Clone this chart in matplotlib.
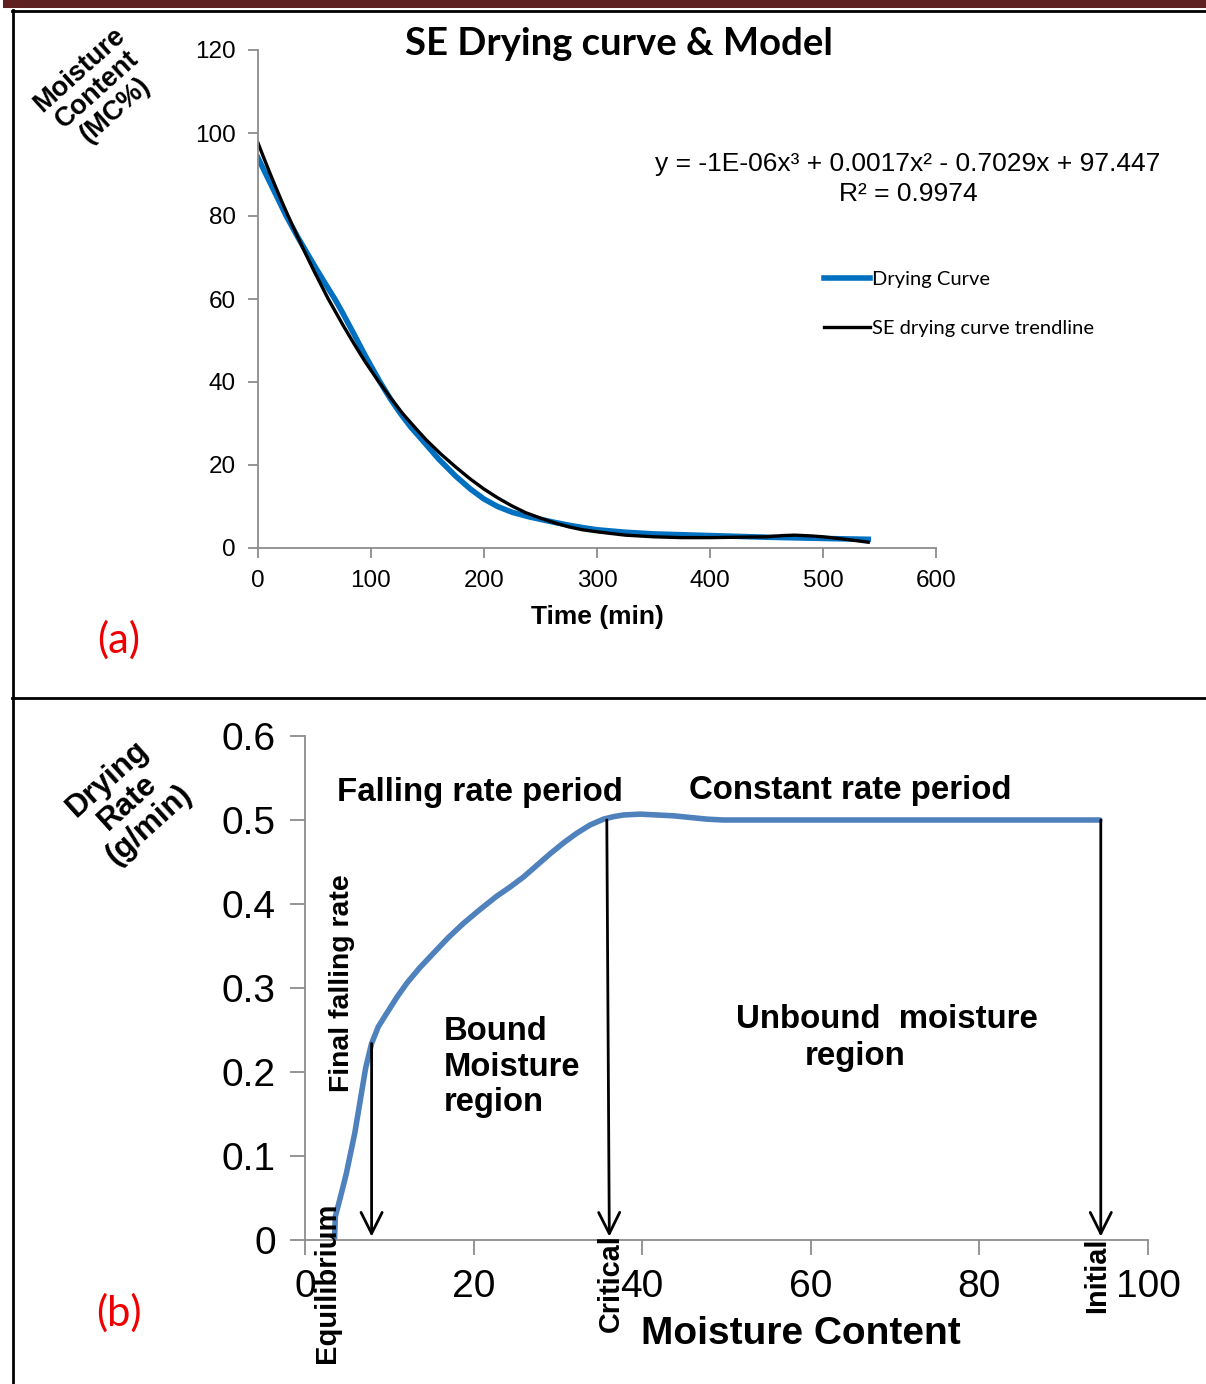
import numpy as np
import matplotlib
matplotlib.use("Agg")
import matplotlib.pyplot as plt
from matplotlib.lines import Line2D

plt.rcParams['font.family'] = ['Liberation Sans', 'DejaVu Sans']

# (a) drying curve: time (min) vs moisture content (%)
time_blue = [0, 5, 10, 15, 25, 35, 50, 60, 68, 75, 85, 95, 108, 117, 125, 135, 146, 160, 175, 188,
             200, 212, 225, 240, 250, 262, 275, 290, 300, 325, 350, 375, 400, 450, 500, 540]
mc_blue = [94, 91.2, 88.4, 85.6, 80, 75, 68, 63.5, 60, 56.6, 51.5, 46.3, 40, 36, 32.8, 29.2, 25.8, 21.4,
           17.3, 14.2, 11.8, 10.0, 8.6, 7.5, 6.9, 6.2, 5.5, 4.8, 4.4, 3.8, 3.4, 3.2, 3.0, 2.6, 2.3, 2.1]
time_black = [0, 5, 10, 15, 22, 30, 40, 50, 62, 75, 85, 95, 106, 117, 128, 140, 149, 162, 175, 188,
              200, 212, 225, 237, 250, 262, 275, 287, 300, 325, 350, 375, 400, 425, 450, 465, 475,
              490, 500, 520, 540]
mc_black = [97.6, 94.1, 90.7, 87.4, 82.9, 78.0, 72.1, 66.5, 60.1, 53.8, 49.2, 44.8, 40.4, 36.3, 32.4,
            28.7, 26.0, 22.6, 19.5, 16.6, 14.2, 12.1, 10.1, 8.5, 7.2, 6.1, 5.1, 4.4, 3.9, 3.1, 2.7,
            2.5, 2.5, 2.6, 2.7, 3.0, 3.1, 2.9, 2.7, 2.1, 1.4]
eq_text = "y = -1E-06x\u00b3 + 0.0017x\u00b2 - 0.7029x + 97.447\nR\u00b2 = 0.9974"

# (b) drying rate vs moisture content
mc_rate = [3.5, 3.6, 4.3, 4.9, 5.4, 5.9, 6.3, 6.7, 7.2, 7.9, 8.7, 9.7, 10.9, 12.1, 13.6, 15.2, 17.0,
           18.8, 20.7, 22.7, 24.3, 25.9, 27.5, 29.1, 30.7, 32.2, 33.8, 35.4, 36.6, 37.8, 39.8, 41.7,
           43.7, 45.7, 47.7, 49.6, 60, 70, 80, 90, 94.3]
rate = [0.0, 0.028, 0.055, 0.079, 0.103, 0.127, 0.151, 0.175, 0.205, 0.234, 0.254, 0.27, 0.289, 0.306,
        0.324, 0.341, 0.36, 0.377, 0.393, 0.409, 0.42, 0.432, 0.446, 0.46, 0.473, 0.484, 0.494, 0.501,
        0.504, 0.506, 0.507, 0.506, 0.505, 0.503, 0.501, 0.5, 0.5, 0.5, 0.5, 0.5, 0.5]
arrow_x_top = [7.9, 35.8, 94.4]
arrow_x_bot = [7.9, 36.1, 94.4]
arrow_y_top = [0.234, 0.5, 0.5]

W, H = 1206, 1384
fig = plt.figure(figsize=(W / 100, H / 100), dpi=100)


def fx(px):
    return px / W


def fy(py):
    return 1 - py / H


# frame lines
fig.add_artist(Line2D([fx(7), 1], [fy(3.5), fy(3.5)], color='#5e2020', lw=5.8))
fig.add_artist(Line2D([fx(12), 1], [fy(11), fy(11)], color='black', lw=2))
fig.add_artist(Line2D([fx(13), fx(13)], [fy(10), 0], color='black', lw=2))
fig.add_artist(Line2D([fx(12), 1], [fy(698), fy(698)], color='black', lw=2))

gray = '#8c8c8c'


def style_axes(ax):
    for s in ['top', 'right']:
        ax.spines[s].set_visible(False)
    for s in ['left', 'bottom']:
        ax.spines[s].set_color(gray)
        ax.spines[s].set_linewidth(1.3)
    ax.tick_params(colors=gray, width=1.3, direction='out')
    ax.tick_params(labelcolor='black')


# ---- panel (a)
ax1 = fig.add_axes([fx(258), fy(548), fx(936) - fx(258), fy(50) - fy(548)])
style_axes(ax1)
ax1.plot(time_blue, mc_blue, color='#0070c0', lw=4, label='Drying Curve')
ax1.plot(time_black, mc_black, color='black', lw=2.4, label='SE drying curve trendline')
ax1.set_xlim(0, 600)
ax1.set_ylim(0, 120)
ax1.set_xticks(range(0, 601, 100))
ax1.set_yticks(range(0, 121, 20))
ax1.tick_params(labelsize=17.5, length=7, pad=9)
ax1.set_xlabel('Time (min)', fontsize=19, fontweight='bold', labelpad=9)
ax1.text(fx(619), fy(44), 'SE Drying curve & Model', transform=fig.transFigure, ha='center',
         va='center', fontsize=27.5, fontweight='bold', family=['Lato', 'DejaVu Sans'])
ax1.text(fx(908), fy(179), eq_text, transform=fig.transFigure, ha='center', va='center',
         fontsize=19, linespacing=1.3)
ax1.legend(loc='center left', bbox_to_anchor=(fx(806), fy(304)), bbox_transform=fig.transFigure,
           frameon=False, handlelength=2.3, handletextpad=0.1, labelspacing=1.55,
           prop={'family': ['Lato', 'DejaVu Sans'], 'size': 14.5})
fig.text(fx(97), fy(90), 'Moisture\nContent\n(MC%)', rotation=42, ha='center', va='center',
         multialignment='center', fontsize=19.5, fontweight='bold', linespacing=1.05)
fig.text(fx(119), fy(640), '(a)', color='#ee0000', fontsize=30, ha='center', va='center',
         family=['Lato', 'DejaVu Sans'])

# ---- panel (b)
ax2 = fig.add_axes([fx(305), fy(1240), fx(1148) - fx(305), fy(736) - fy(1240)])
style_axes(ax2)
ax2.plot(mc_rate, rate, color='#4f81bd', lw=4, solid_capstyle='round', solid_joinstyle='round')
ax2.set_xlim(0, 100)
ax2.set_ylim(0, 0.6)
ax2.set_xticks(range(0, 101, 20))
ax2.set_yticks([0, 0.1, 0.2, 0.3, 0.4, 0.5, 0.6])
ax2.set_yticklabels(['0', '0.1', '0.2', '0.3', '0.4', '0.5', '0.6'])
ax2.tick_params(labelsize=28, length=11, pad=10)
ax2.set_xlabel('Moisture Content', fontsize=28, fontweight='bold')
ax2.xaxis.set_label_coords(0.588, -0.15)

for xt, xb, yt in zip(arrow_x_top, arrow_x_bot, arrow_y_top):
    ax2.annotate('', xy=(xb, 0.004), xytext=(xt, yt),
                 arrowprops=dict(arrowstyle='->', lw=2, color='black', mutation_scale=38,
                                 shrinkA=0, shrinkB=0))

bold = dict(fontweight='bold', color='black')
ax2.text(fx(480), fy(793), 'Falling rate period', transform=fig.transFigure, ha='center',
         va='center', fontsize=23.8, **bold)
ax2.text(fx(850), fy(791), 'Constant rate period', transform=fig.transFigure, ha='center',
         va='center', fontsize=23.8, **bold)
ax2.text(fx(444), fy(1067), 'Bound\nMoisture\nregion', transform=fig.transFigure, ha='left',
         va='center', fontsize=23.6, linespacing=1.2, **bold)
ax2.text(fx(887), fy(1020), 'Unbound  moisture', transform=fig.transFigure, ha='center',
         va='center', fontsize=23.8, **bold)
ax2.text(fx(855), fy(1056), 'region', transform=fig.transFigure, ha='center',
         va='center', fontsize=23.8, **bold)
ax2.text(fx(342), fy(983), 'Final falling rate', transform=fig.transFigure, ha='center',
         va='center', rotation=90, fontsize=20.4, **bold)
ax2.text(fx(327), fy(1283), 'Equilibrium', transform=fig.transFigure, ha='center',
         va='center', rotation=90, fontsize=21, **bold)
ax2.text(fx(611), fy(1283), 'Critical', transform=fig.transFigure, ha='center',
         va='center', rotation=90, fontsize=20.8, **bold)
ax2.text(fx(1097), fy(1275), 'Initial', transform=fig.transFigure, ha='center',
         va='center', rotation=90, fontsize=20.8, **bold)

fig.text(fx(128), fy(802), 'Drying\nRate\n(g/min)', rotation=42, ha='center', va='center',
         multialignment='center', fontsize=22.5, fontweight='bold', linespacing=1.05)
fig.text(fx(119), fy(1313), '(b)', color='#ee0000', fontsize=30, ha='center', va='center',
         family=['Lato', 'DejaVu Sans'])

fig.savefig('out.png', dpi=100)
